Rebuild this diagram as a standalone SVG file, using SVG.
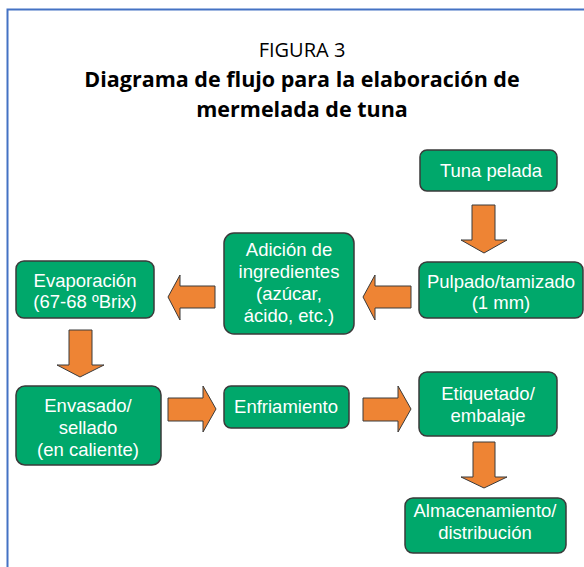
<svg xmlns="http://www.w3.org/2000/svg" width="584" height="567" viewBox="0 0 584 567">
<style>
.box{fill:#00A86B;stroke:#3a3a3a;stroke-width:1.5}
.lbl{font-family:"Liberation Sans",Arial,sans-serif;font-size:18.5px;fill:#ffffff;text-anchor:middle}
.arr{fill:#EE8434;stroke:#3a3a3a;stroke-width:1}
.t1{font-family:"Open Sans","Noto Sans",sans-serif;font-size:20px;fill:#000;text-anchor:middle}
.t2{font-family:"Open Sans","Noto Sans",sans-serif;font-size:21.5px;font-weight:bold;fill:#000;text-anchor:middle}
</style>
<rect width="584" height="567" fill="#ffffff"/>
<path d="M7.5,567 V9.5 H584" fill="none" stroke="#4472C4" stroke-width="2"/>
<g id="title">
<text class="t1" x="302" y="57">FIGURA 3</text>
<text class="t2" x="302" y="87">Diagrama de flujo para la elaboración de</text>
<text class="t2" x="302" y="117">mermelada de tuna</text>
</g>
<g id="connectors">
<polygon class="arr" points="472,205 495,205 495,240 507,240 484,253 461,240 472,240"/>
<polygon class="arr" points="411,286 411,308 375,308 375,320 363,297 375,275 375,286"/>
<polygon class="arr" points="215,286 215,308 180,308 180,320 168,297 180,275 180,286"/>
<polygon class="arr" points="69,330 92,330 92,365 104,365 80,377 57,365 69,365"/>
<polygon class="arr" points="168,398 203,398 203,386 216,409 203,432 203,421 168,421"/>
<polygon class="arr" points="363,398 398,398 398,386 411,409 398,432 398,421 363,421"/>
<polygon class="arr" points="473,442 495,442 495,477 507,477 484,488 461,477 473,477"/>
</g>
<g id="n-tuna">
<rect class="box" x="420" y="150" width="137" height="41" rx="7"/>
<text class="lbl" x="491" y="177">Tuna pelada</text>
</g>
<g id="n-pulpado">
<rect class="box" x="419" y="262" width="164" height="56" rx="8"/>
<text class="lbl" x="501" y="288">Pulpado/tamizado</text>
<text class="lbl" x="501" y="309">(1 mm)</text>
</g>
<g id="n-adicion">
<rect class="box" x="224" y="233" width="130" height="101" rx="10"/>
<text class="lbl" x="289" y="256">Adición de</text>
<text class="lbl" x="289" y="278">ingredientes</text>
<text class="lbl" x="289" y="300">(azúcar,</text>
<text class="lbl" x="289" y="322">ácido, etc.)</text>
</g>
<g id="n-evap">
<rect class="box" x="16" y="261" width="138" height="57" rx="8"/>
<text class="lbl" x="85" y="287">Evaporación</text>
<text class="lbl" x="85" y="308">(67-68 ºBrix)</text>
</g>
<g id="n-envasado">
<rect class="box" x="16" y="386" width="145" height="79" rx="9"/>
<text class="lbl" x="88" y="412">Envasado/</text>
<text class="lbl" x="88" y="434">sellado</text>
<text class="lbl" x="88" y="456">(en caliente)</text>
</g>
<g id="n-enfriamiento">
<rect class="box" x="224" y="386" width="125" height="42" rx="7"/>
<text class="lbl" x="286" y="413">Enfriamiento</text>
</g>
<g id="n-etiquetado">
<rect class="box" x="419" y="372" width="138" height="64" rx="8"/>
<text class="lbl" x="488" y="400">Etiquetado/</text>
<text class="lbl" x="488" y="422">embalaje</text>
</g>
<g id="n-almacen">
<rect class="box" x="405" y="498" width="161" height="55" rx="8"/>
<text class="lbl" x="485" y="517">Almacenamiento/</text>
<text class="lbl" x="485" y="539">distribución</text>
</g>
</svg>
